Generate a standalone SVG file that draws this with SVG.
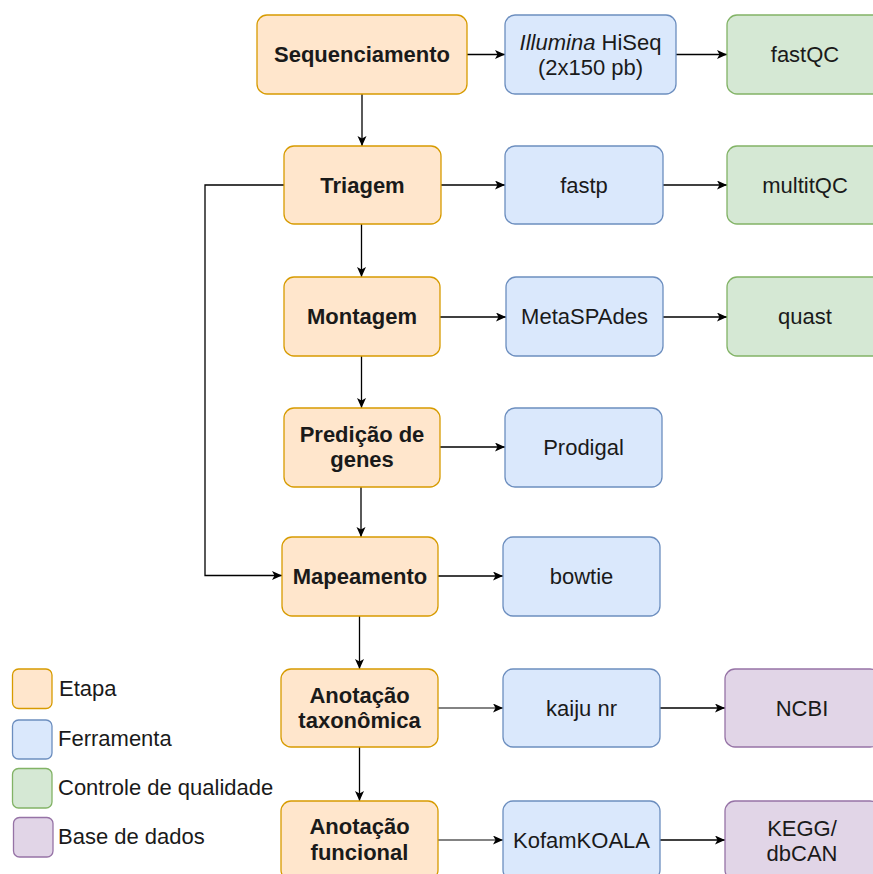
<svg xmlns="http://www.w3.org/2000/svg" width="873" height="874" viewBox="0 0 873 874">
<style>
text{font-family:"Liberation Sans",Arial,sans-serif;font-size:22px;fill:#1a1a1a;text-anchor:middle}
.b{font-weight:bold}
.l{text-anchor:start}
.st{fill:#ffe6cc;stroke:#d79b00;stroke-width:1.3}
.tl{fill:#dae8fc;stroke:#6c8ebf;stroke-width:1.3}
.qc{fill:#d5e8d4;stroke:#82b366;stroke-width:1.3}
.db{fill:#e1d5e7;stroke:#9673a6;stroke-width:1.3}
.c{fill:none;stroke:#000;stroke-width:1.3;marker-end:url(#a)}
.g{stroke:#5a5a5a;stroke-width:1.6}
</style>
<defs>
<marker id="a" markerUnits="userSpaceOnUse" markerWidth="12" markerHeight="10" refX="10" refY="4.5" orient="auto" viewBox="0 0 12 10">
<path d="M0,0 L10,4.5 L0,9 L2.5,4.5 Z" fill="#000"/>
</marker>
</defs>
<rect width="873" height="874" fill="#fff"/>
<g id="connectors">
<path class="c" d="M467,54.5 H505"/>
<path class="c" d="M676,54.5 H727"/>
<path class="c" d="M441,185 H505"/>
<path class="c" d="M663,185 H727"/>
<path class="c" d="M440,317 H506"/>
<path class="c" d="M663,317 H727"/>
<path class="c" d="M440,447 H505"/>
<path class="c" d="M438,576 H503"/>
<path class="c g" d="M438,708 H503"/>
<path class="c" d="M660,708 H725"/>
<path class="c g" d="M438,840 H503"/>
<path class="c" d="M660,840 H725"/>
<path class="c" d="M362,94 V146"/>
<path class="c" d="M361.5,224 V277"/>
<path class="c" d="M361.5,356 V408"/>
<path class="c" d="M361,487 V537"/>
<path class="c" d="M359.5,616 V669"/>
<path class="c" d="M359.5,747 V801"/>
<path class="c" d="M284,185 H205 V575.5 H282"/>
</g>
<g id="sequenciamento"><rect class="st" x="257" y="15" width="210" height="79" rx="10"/><text class="b" x="362" y="62">Sequenciamento</text></g>
<g id="illumina"><rect class="tl" x="505" y="15" width="171" height="79" rx="10"/><text x="590.5" y="50"><tspan font-style="italic">Illumina</tspan> HiSeq</text><text x="590.5" y="75">(2x150 pb)</text></g>
<g id="fastqc"><rect class="qc" x="727" y="15" width="157" height="79" rx="10"/><text x="805" y="62">fastQC</text></g>
<g id="triagem"><rect class="st" x="284" y="146" width="157" height="78" rx="10"/><text class="b" x="362.5" y="192.5">Triagem</text></g>
<g id="fastp"><rect class="tl" x="505" y="146" width="158" height="78" rx="10"/><text x="584" y="192.5">fastp</text></g>
<g id="multitqc"><rect class="qc" x="727" y="146" width="157" height="78" rx="10"/><text x="805" y="192.5">multitQC</text></g>
<g id="montagem"><rect class="st" x="284" y="277" width="156" height="79" rx="10"/><text class="b" x="362" y="324">Montagem</text></g>
<g id="metaspades"><rect class="tl" x="506" y="277" width="157" height="79" rx="10"/><text x="584.5" y="324">MetaSPAdes</text></g>
<g id="quast"><rect class="qc" x="727" y="277" width="157" height="79" rx="10"/><text x="805" y="324">quast</text></g>
<g id="predicao"><rect class="st" x="284" y="408" width="156" height="79" rx="10"/><text class="b" x="362" y="442">Predição de</text><text class="b" x="362" y="467">genes</text></g>
<g id="prodigal"><rect class="tl" x="505" y="408" width="157" height="79" rx="10"/><text x="583.5" y="455">Prodigal</text></g>
<g id="mapeamento"><rect class="st" x="282" y="537" width="156" height="79" rx="10"/><text class="b" x="360" y="584">Mapeamento</text></g>
<g id="bowtie"><rect class="tl" x="503" y="537" width="157" height="79" rx="10"/><text x="581.5" y="584">bowtie</text></g>
<g id="anotacao-taxonomica"><rect class="st" x="281" y="669" width="157" height="78" rx="10"/><text class="b" x="359.5" y="703">Anotação</text><text class="b" x="359.5" y="728">taxonômica</text></g>
<g id="kaiju"><rect class="tl" x="503" y="669" width="157" height="78" rx="10"/><text x="581.5" y="715.5">kaiju nr</text></g>
<g id="ncbi"><rect class="db" x="725" y="669" width="155" height="78" rx="10"/><text x="802" y="715.5">NCBI</text></g>
<g id="anotacao-funcional"><rect class="st" x="281" y="801" width="157" height="79" rx="10"/><text class="b" x="359.5" y="834">Anotação</text><text class="b" x="359.5" y="860">funcional</text></g>
<g id="kofamkoala"><rect class="tl" x="503" y="801" width="157" height="79" rx="10"/><text x="581.5" y="848">KofamKOALA</text></g>
<g id="kegg"><rect class="db" x="725" y="801" width="155" height="79" rx="10"/><text x="802" y="836">KEGG/</text><text x="802" y="861">dbCAN</text></g>
<g id="legend">
<rect class="st" x="12.5" y="669" width="39.5" height="39.5" rx="6"/><text class="l" x="59" y="696">Etapa</text>
<rect class="tl" x="12.5" y="720" width="39.5" height="39" rx="6"/><text class="l" x="58" y="746">Ferramenta</text>
<rect class="qc" x="12.5" y="768.5" width="39.5" height="39.5" rx="6"/><text class="l" x="58" y="795">Controle de qualidade</text>
<rect class="db" x="13.5" y="817.5" width="39.5" height="39.5" rx="6"/><text class="l" x="58" y="844">Base de dados</text>
</g>
</svg>
